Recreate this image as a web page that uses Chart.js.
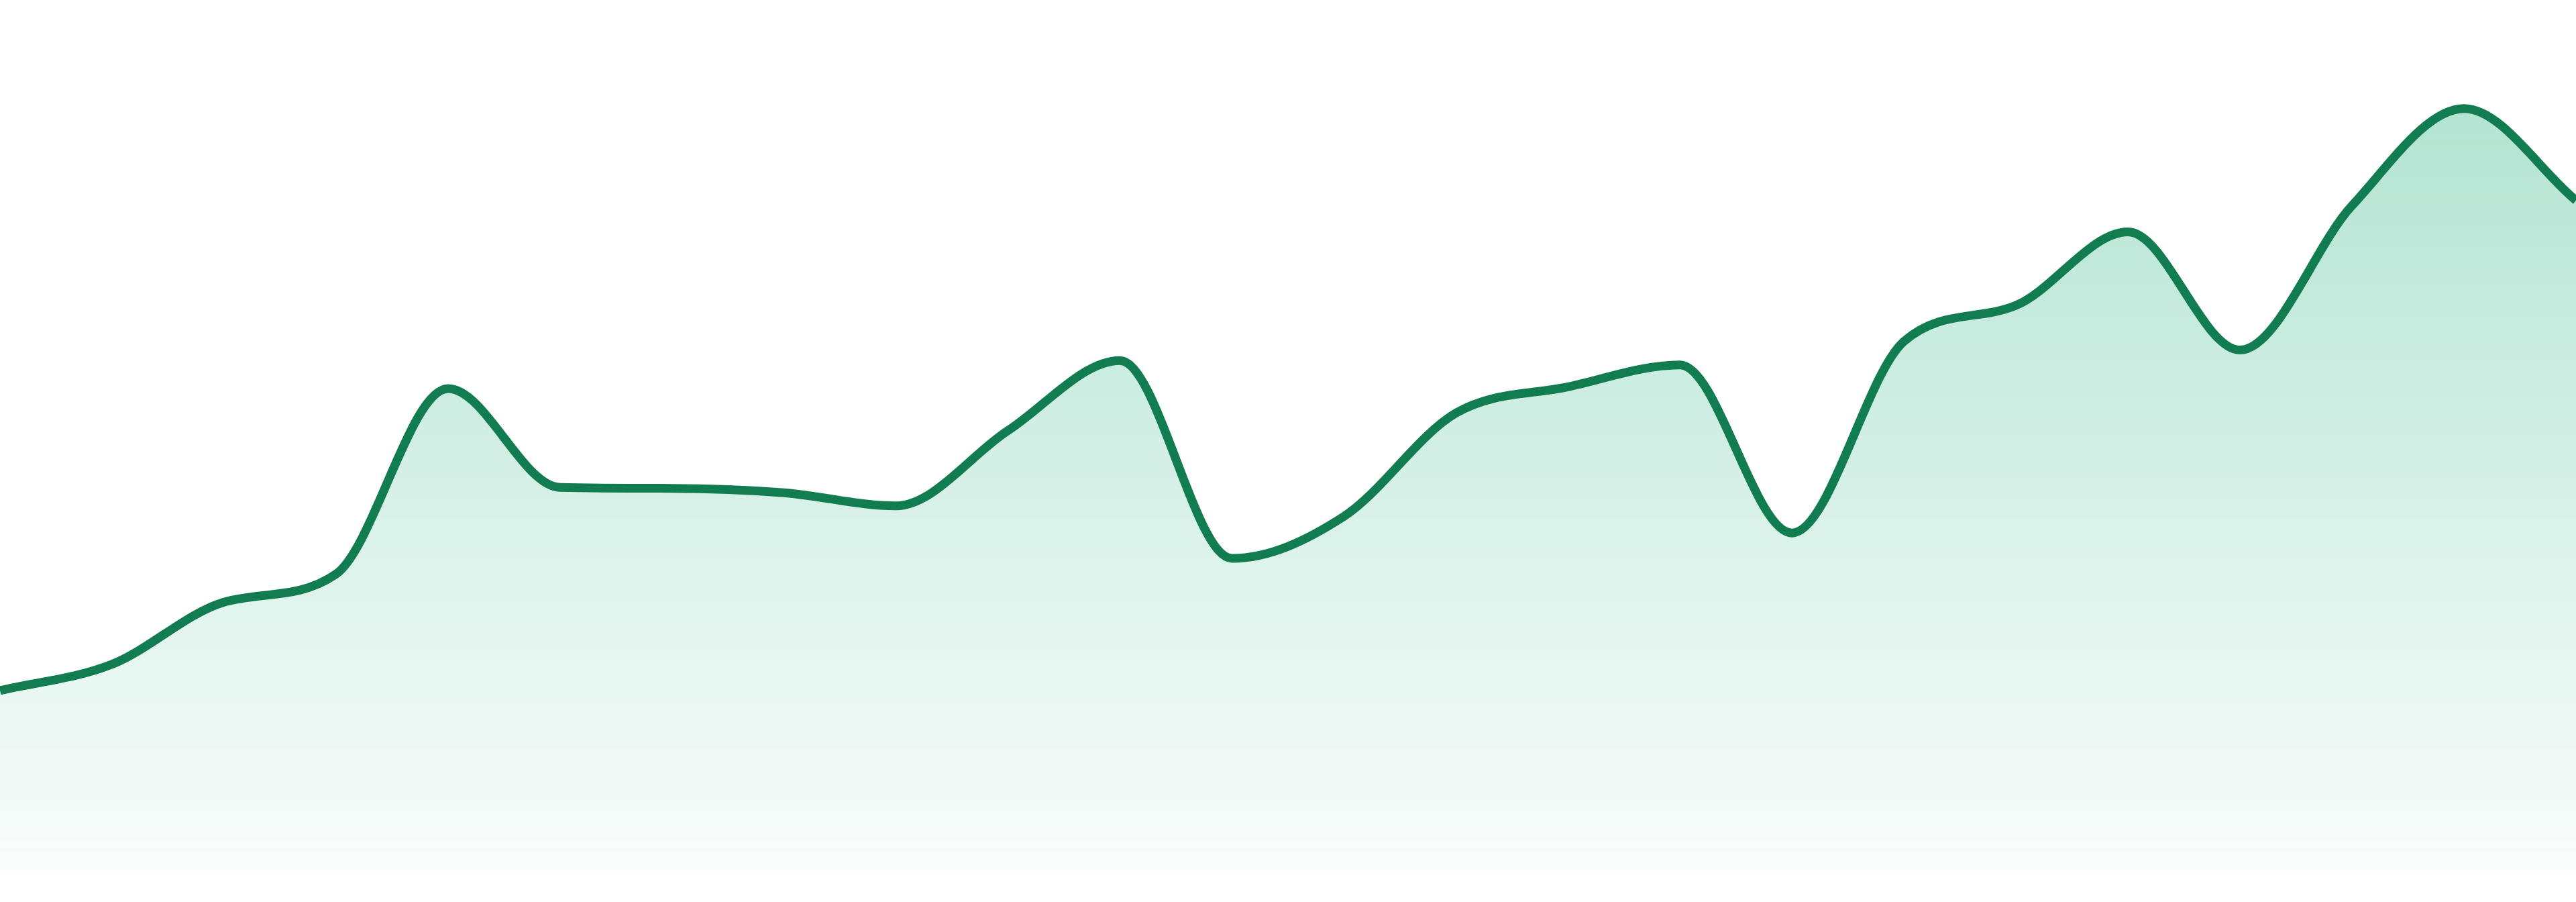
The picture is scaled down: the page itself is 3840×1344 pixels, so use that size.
<!DOCTYPE html>
<html>
<head>
<meta charset="utf-8">
<title>Area chart</title>
<script src="https://cdn.jsdelivr.net/npm/chart.js@4/dist/chart.umd.min.js"></script>
<style>
	html, body { margin: 0; padding: 0; background: #ffffff; }
	#chartContainer { width: 3840px; height: 1344px; }
</style>
</head>
<body>
<div id="chartContainer"><canvas id="chart"></canvas></div>
<script>
// data, one value per point (0 - 100 scale)
var labels = ['1', '2', '3', '4', '5', '6', '7', '8', '9', '10', '11', '12',
	'13', '14', '15', '16', '17', '18', '19', '20', '21', '22', '23', '24'];
var values = [21.1, 24.1, 31.2, 34.4, 55.6, 44.3, 44.2, 43.7, 42.2, 50.8, 58.8, 36.2,
	41.0, 52.8, 55.8, 58.3, 39.1, 61.0, 65.1, 73.5, 60.0, 76.5, 87.6, 77.1];
var yMin = 0;
var yMax = 100;

var lineColor = 'rgb(17, 124, 80)';

function fillGradient(context) {
	var chart = context.chart;
	var area = chart.chartArea;
	if (!area) {
		return 'rgba(16, 170, 115, 0.2)';
	}
	var g = chart.ctx.createLinearGradient(0, area.top, 0, area.bottom);
	g.addColorStop(0, 'rgba(16, 170, 115, 0.36)');
	g.addColorStop(1, 'rgba(16, 170, 115, 0.02)');
	return g;
}

function drawThisChart() {
	var ctx = document.getElementById('chart').getContext('2d');
	var chart = new Chart(ctx, {
		type: 'line',
		data: {
			labels: labels,
			datasets: [
				{
					label: 'Series 1',
					data: values,
					fill: 'start',
					backgroundColor: fillGradient,
					borderColor: lineColor,
					borderWidth: 13,
					tension: 0.4,
					cubicInterpolationMode: 'monotone',
					pointRadius: 0,
					pointHoverRadius: 0
				}
			]
		},
		options: {
			responsive: true,
			maintainAspectRatio: false,
			devicePixelRatio: 1,
			animation: false,
			layout: {
				padding: { top: 0, right: 0, bottom: 40, left: 0 }
			},
			plugins: {
				legend: { display: false },
				tooltip: { enabled: false }
			},
			scales: {
				x: { display: false, offset: false },
				y: { display: false, min: yMin, max: yMax }
			}
		}
	});
}

drawThisChart();
</script>
</body>
</html>
